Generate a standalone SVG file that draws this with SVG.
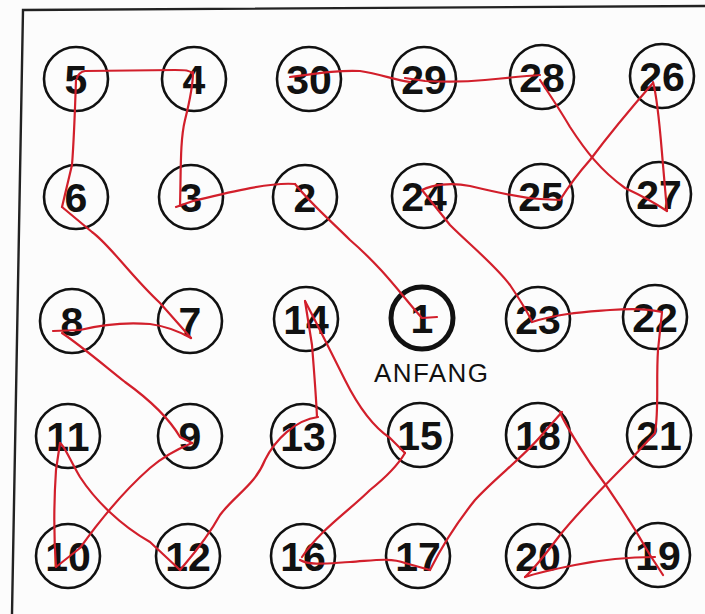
<svg xmlns="http://www.w3.org/2000/svg" width="705" height="614" viewBox="0 0 705 614">
<style>
.c{fill:none;stroke:#111;stroke-width:2.6}
.s{fill:none;stroke:#111;stroke-width:5}
.t{font-family:"Liberation Sans",Arial,sans-serif;font-weight:bold;font-size:41px;fill:#111;text-anchor:middle}
.l{font-family:"Liberation Sans",Arial,sans-serif;font-size:26px;fill:#111;text-anchor:middle}
.r{fill:none;stroke:#d21f2b;stroke-width:2.2;stroke-linecap:round;stroke-linejoin:round}
</style>
<rect width="705" height="614" fill="#fcfcfc"/>
<path d="M 705 6 L 23 10 L 12 614" fill="none" stroke="#222" stroke-width="2.4"/>
<g id="nodes">
<g id="n1"><circle class="s" cx="422" cy="318" r="31"/><text class="t" x="422" y="333">1</text><text class="l" x="431" y="382" textLength="114">ANFANG</text></g>
<g id="n2"><circle class="c" cx="305" cy="197" r="32"/><text class="t" x="305" y="212">2</text></g>
<g id="n3"><circle class="c" cx="191" cy="197" r="32"/><text class="t" x="191" y="212">3</text></g>
<g id="n4"><circle class="c" cx="194" cy="79" r="32"/><text class="t" x="194" y="94">4</text></g>
<g id="n5"><circle class="c" cx="76" cy="79" r="32"/><text class="t" x="76" y="94">5</text></g>
<g id="n6"><circle class="c" cx="76" cy="197" r="32"/><text class="t" x="76" y="212">6</text></g>
<g id="n7"><circle class="c" cx="190" cy="321" r="32"/><text class="t" x="190" y="336">7</text></g>
<g id="n8"><circle class="c" cx="72" cy="321" r="32"/><text class="t" x="72" y="336">8</text></g>
<g id="n9"><circle class="c" cx="190" cy="436" r="32"/><text class="t" x="190" y="451">9</text></g>
<g id="n10"><circle class="c" cx="68" cy="556" r="32"/><text class="t" x="68" y="571">10</text></g>
<g id="n11"><circle class="c" cx="68" cy="436" r="32"/><text class="t" x="68" y="451">11</text></g>
<g id="n12"><circle class="c" cx="188" cy="556" r="32"/><text class="t" x="188" y="571">12</text></g>
<g id="n13"><circle class="c" cx="303" cy="436" r="32"/><text class="t" x="303" y="451">13</text></g>
<g id="n14"><circle class="c" cx="306" cy="319" r="32"/><text class="t" x="306" y="334">14</text></g>
<g id="n15"><circle class="c" cx="420" cy="435" r="32"/><text class="t" x="420" y="450">15</text></g>
<g id="n16"><circle class="c" cx="303" cy="556" r="32"/><text class="t" x="303" y="571">16</text></g>
<g id="n17"><circle class="c" cx="418" cy="556" r="32"/><text class="t" x="418" y="571">17</text></g>
<g id="n18"><circle class="c" cx="538" cy="435" r="32"/><text class="t" x="538" y="450">18</text></g>
<g id="n19"><circle class="c" cx="658" cy="555" r="32"/><text class="t" x="658" y="570">19</text></g>
<g id="n20"><circle class="c" cx="538" cy="556" r="32"/><text class="t" x="538" y="571">20</text></g>
<g id="n21"><circle class="c" cx="659" cy="435" r="32"/><text class="t" x="659" y="450">21</text></g>
<g id="n22"><circle class="c" cx="655" cy="317" r="32"/><text class="t" x="655" y="332">22</text></g>
<g id="n23"><circle class="c" cx="538" cy="319" r="32"/><text class="t" x="538" y="334">23</text></g>
<g id="n24"><circle class="c" cx="424" cy="196" r="32"/><text class="t" x="424" y="211">24</text></g>
<g id="n25"><circle class="c" cx="541" cy="196" r="32"/><text class="t" x="541" y="211">25</text></g>
<g id="n26"><circle class="c" cx="662" cy="76" r="32"/><text class="t" x="662" y="91">26</text></g>
<g id="n27"><circle class="c" cx="659" cy="194" r="32"/><text class="t" x="659" y="209">27</text></g>
<g id="n28"><circle class="c" cx="542" cy="77" r="32"/><text class="t" x="542" y="92">28</text></g>
<g id="n29"><circle class="c" cx="424" cy="79" r="32"/><text class="t" x="424" y="94">29</text></g>
<g id="n30"><circle class="c" cx="309" cy="79" r="32"/><text class="t" x="309" y="94">30</text></g>
</g>
<g id="connectors">
<path class="r" d="M 437 317 L 422 318 C 405 300, 385 270, 350 240 C 330 220, 312 205, 295 184"/>
<path class="r" d="M 295 184 C 270 182, 230 192, 193 201 L 176 207"/>
<path class="r" d="M 180 206 C 181 170, 180 140, 185 120 C 190 100, 193 85, 193 72"/>
<path class="r" d="M 193 74 C 190 70, 185 70, 175 70 L 85 71 C 80 72, 78 74, 77 78"/>
<path class="r" d="M 76 80 C 75 110, 74 140, 72 165 L 62 207"/>
<path class="r" d="M 62 207 C 68 212, 80 222, 92 232 C 110 245, 130 275, 160 303 L 191 338"/>
<path class="r" d="M 191 338 C 180 332, 165 326, 150 324 C 125 322, 100 325, 80 330 L 53 331"/>
<path class="r" d="M 62 333 C 80 345, 100 362, 125 382 C 150 400, 170 420, 180 437 L 192 443"/>
<path class="r" d="M 192 443 C 180 448, 165 455, 150 468 C 125 490, 100 520, 80 548 L 56 567"/>
<path class="r" d="M 56 567 C 54 540, 54 500, 56 470 L 60 443"/>
<path class="r" d="M 60 443 C 64 445, 70 460, 80 477 C 95 500, 120 525, 150 542 L 180 570"/>
<path class="r" d="M 180 570 C 190 558, 205 542, 220 515 C 235 495, 255 485, 265 460 C 275 440, 295 420, 318 417"/>
<path class="r" d="M 317 417 C 316 395, 314 370, 312 345 L 305 301"/>
<path class="r" d="M 305 301 C 315 320, 330 350, 345 380 C 360 410, 375 428, 390 438 L 405 453"/>
<path class="r" d="M 405 453 C 398 465, 385 478, 370 490 C 350 510, 320 530, 302 557"/>
<path class="r" d="M 300 560 C 310 566, 330 563, 350 562 C 370 561, 390 557, 405 563 L 430 570"/>
<path class="r" d="M 430 570 C 440 550, 455 525, 475 500 C 495 478, 520 460, 540 437 L 562 412"/>
<path class="r" d="M 560 412 C 565 425, 575 440, 590 463 C 610 490, 630 520, 650 555 L 663 575"/>
<path class="r" d="M 655 557 C 630 557, 600 560, 575 565 C 560 568, 540 572, 525 577"/>
<path class="r" d="M 525 577 C 535 568, 545 555, 560 535 C 580 510, 610 480, 633 457 L 655 433"/>
<path class="r" d="M 655 433 C 659 410, 656 380, 658 350 L 662 312"/>
<path class="r" d="M 662 312 C 650 309, 635 308, 610 310 C 585 312, 560 313, 532 322"/>
<path class="r" d="M 532 322 C 528 312, 520 300, 510 285 C 495 265, 470 245, 450 225 L 422 190"/>
<path class="r" d="M 422 190 C 432 185, 450 182, 470 186 C 495 192, 520 198, 540 199 L 560 200"/>
<path class="r" d="M 560 200 C 565 192, 575 177, 590 160 C 605 140, 625 115, 653 83"/>
<path class="r" d="M 653 82 C 658 100, 660 130, 663 165 L 667 211"/>
<path class="r" d="M 667 211 C 655 203, 640 195, 625 188 C 600 170, 585 150, 570 127 C 560 110, 550 95, 540 80"/>
<path class="r" d="M 540 75 C 525 76, 505 78, 485 80 C 465 82, 445 82, 425 81 L 405 78"/>
<path class="r" d="M 410 82 C 395 80, 380 74, 360 71 C 340 70, 320 73, 290 77"/>
</g>
</svg>
